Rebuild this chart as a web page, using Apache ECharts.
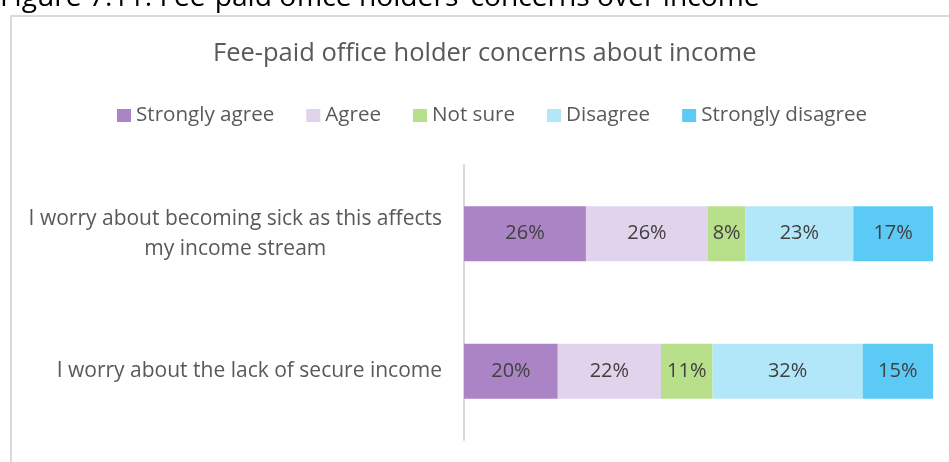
<!DOCTYPE html>
<html><head><meta charset="utf-8">
<script src="https://cdn.jsdelivr.net/npm/echarts@6/dist/echarts.min.js"></script>
<style>html,body{margin:0;padding:0;background:#fff}#c{width:949px;height:462px}</style>
</head><body><div id="c"></div>
<script>
const categories = ["I worry about becoming sick as this affects\nmy income stream", "I worry about the lack of secure income"];
const seriesNames = ["Strongly agree", "Agree", "Not sure", "Disagree", "Strongly disagree"];
const strongAgree = [26, 20];
const agree = [26, 22];
const notSure = [8, 11];
const disagree = [23, 32];
const strongDisagree = [17, 15];
const colors = ["#ab84c6", "#e1d3ec", "#b8df8a", "#b2e7f9", "#5bcbf5"];
const valuesList = [strongAgree, agree, notSure, disagree, strongDisagree];
const FONT = "Open Sans";
const chart = echarts.init(document.getElementById('c'));
chart.setOption({
  animation: false,
  textStyle: {fontFamily: FONT},
  graphic: [
    {type: 'rect', shape: {x: 11, y: 16, width: 960, height: 470}, style: {fill: 'none', stroke: '#d9d9d9', lineWidth: 2}},
    {type: 'text', left: 0, top: -16, style: {text: "Figure 7.11: Fee-paid office holders\u2019 concerns over income", font: '28.2px ' + FONT, fill: '#000'}}
  ],
  title: {text: "Fee-paid office holder concerns about income", left: 208, top: 36, textStyle: {fontFamily: FONT, fontSize: 25.5, fontWeight: 'normal', color: '#595959'}},
  legend: {top: 100, left: 112, itemWidth: 14, itemHeight: 13, itemGap: 32, icon: 'rect', textStyle: {fontFamily: FONT, fontSize: 20.6, color: '#595959'}, data: seriesNames},
  grid: {left: 464, right: 16, top: 165, bottom: 22},
  xAxis: {type: 'value', min: 0, max: 100, show: false},
  yAxis: {type: 'category', inverse: true, data: categories, axisTick: {show: false},
    axisLine: {lineStyle: {color: '#d9d9d9', width: 2}},
    axisLabel: {fontFamily: FONT, fontSize: 21, color: '#595959', margin: 22, align: 'right', lineHeight: 30,
      formatter: v => v.split('\n').map(s => '{c|' + s + '}').join('\n'),
      rich: {c: {align: 'center', fontFamily: FONT, fontSize: 21, color: '#595959', lineHeight: 30}}}},
  series: seriesNames.map((n, i) => ({
    name: n, type: 'bar', stack: 'all', barCategoryGap: '60%', data: valuesList[i],
    itemStyle: {color: colors[i]},
    label: {show: true, position: 'inside', formatter: '{c}%', fontFamily: FONT, fontSize: 20, color: '#404040'}
  }))
});
</script></body></html>
